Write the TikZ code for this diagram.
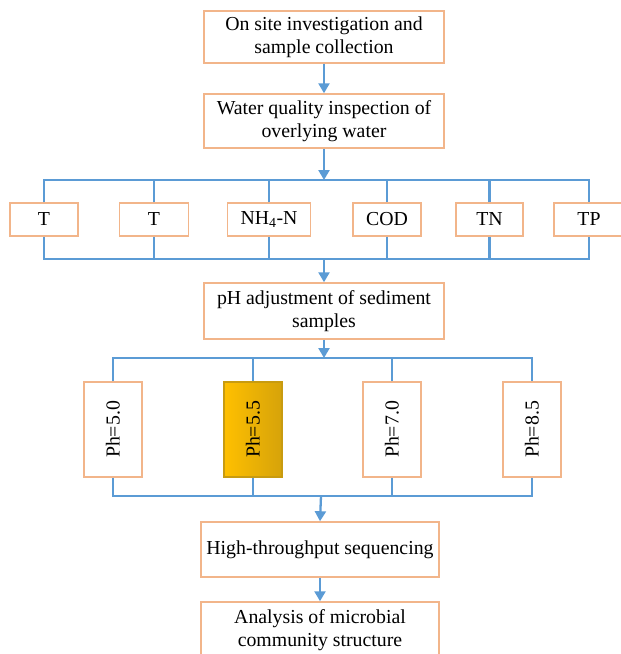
\documentclass[tikz,border=0pt]{standalone}
\usepackage{fontspec}
\setmainfont{Liberation Serif}
\usetikzlibrary{arrows.meta}
\definecolor{busblue}{HTML}{5B9BD5}
\definecolor{boxline}{HTML}{F2B58A}
\definecolor{goldA}{HTML}{FFC000}
\definecolor{goldB}{HTML}{D6A30A}
\definecolor{goldline}{HTML}{C89B10}
\begin{document}
\begin{tikzpicture}[x=1pt,y=-1pt,
  every node/.style={font=\fontsize{19.8}{23}\selectfont, inner sep=0pt, align=center},
  procbox/.style={draw=boxline, line width=1.5pt, fill=white, rectangle},
  bus/.style={draw=busblue, line width=2.8pt},
  flow/.style={draw=busblue, line width=2.3pt, -{Triangle[width=11pt,length=10pt]}}
]
\useasboundingbox (0,0) rectangle (621,654);
% main flow boxes
\node[procbox, minimum width=240, minimum height=52] (b1) at (324,37) {On site investigation and\\sample collection};
\node[procbox, minimum width=240, minimum height=54] (b2) at (324,121) {Water quality inspection of\\overlying water};
\node[procbox, minimum width=240, minimum height=56] (b3) at (324,311) {pH adjustment of sediment\\samples};
\node[procbox, minimum width=238, minimum height=55] (b4) at (320,549.5) {High-throughput sequencing};
\node[procbox, minimum width=238, minimum height=56] (b5) at (320,630) {Analysis of microbial\\community structure};
% parameter row
\node[procbox, minimum width=68, minimum height=33] (p1) at (44,219.5) {T};
\node[procbox, minimum width=69, minimum height=33] (p2) at (154,219.5) {T};
\node[procbox, minimum width=83, minimum height=33] (p3) at (269,219.5) {NH\textsubscript{4}-N};
\node[procbox, minimum width=68, minimum height=33] (p4) at (387,219.5) {COD};
\node[procbox, minimum width=67, minimum height=33] (p5) at (489.5,219.5) {TN};
\node[procbox, minimum width=70, minimum height=33] (p6) at (589,219.5) {TP};
% pH row
\node[procbox, minimum width=58, minimum height=95] (q1) at (113,429.5) {\rotatebox{90}{Ph=5.0}};
\node[rectangle, draw=goldline, line width=1.2pt, left color=goldA, right color=goldB, minimum width=58, minimum height=95] (q2) at (253,429.5) {\rotatebox{90}{Ph=5.5}};
\node[procbox, minimum width=58, minimum height=95] (q3) at (392,429.5) {\rotatebox{90}{Ph=7.0}};
\node[procbox, minimum width=58, minimum height=95] (q4) at (532,429.5) {\rotatebox{90}{Ph=8.5}};
% bus coordinates
\coordinate (topbus) at (324,180);
\coordinate (botbus) at (324,259);
\coordinate (phtop) at (324,358);
\coordinate (phbot) at (321,496);
% arrows
\draw[flow] (b1.south) -- (b2.north);
\draw[flow] (b2.south) -- (topbus);
\draw[flow] (botbus) -- (b3.north);
\draw[flow] (b3.south) -- (phtop);
\draw[flow] (phbot) -- (b4.north);
\draw[flow] (b4.south) -- (b5.north);
% parameter buses
\draw[bus] (p1.north) -- (p1.north |- topbus) -- (p6.north |- topbus) -- (p6.north);
\draw[bus] (p1.south) -- (p1.south |- botbus) -- (p6.south |- botbus) -- (p6.south);
\foreach \n in {p2,p3,p4,p5}{
  \draw[bus] (\n.north) -- (\n.north |- topbus);
  \draw[bus] (\n.south) -- (\n.south |- botbus);
}
% pH buses
\draw[bus] (q1.north) -- (q1.north |- phtop) -- (q4.north |- phtop) -- (q4.north);
\draw[bus] (q1.south) -- (q1.south |- phbot) -- (q4.south |- phbot) -- (q4.south);
\foreach \n in {q2,q3}{
  \draw[bus] (\n.north) -- (\n.north |- phtop);
  \draw[bus] (\n.south) -- (\n.south |- phbot);
}
\end{tikzpicture}
\end{document}
